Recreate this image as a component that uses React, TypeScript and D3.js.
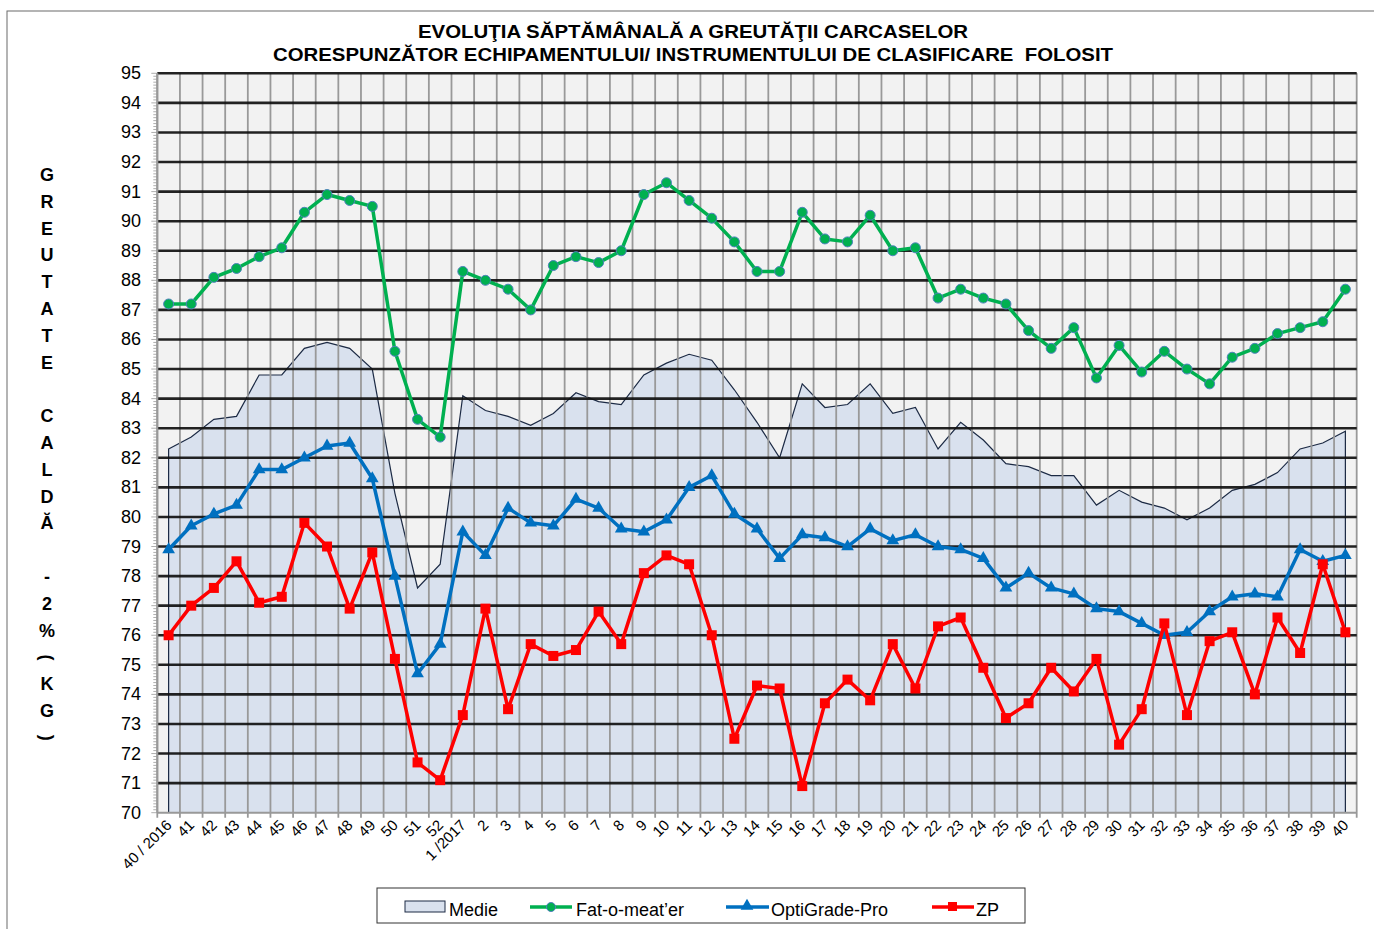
import * as d3 from 'd3';

const weeks = [
  '40 / 2016', '41', '42', '43', '44', '45', '46', '47', '48', '49', '50', '51', '52',
  '1 /2017', '2', '3', '4', '5', '6', '7', '8', '9', '10', '11', '12', '13', '14', '15',
  '16', '17', '18', '19', '20', '21', '22', '23', '24', '25', '26', '27', '28', '29', '30',
  '31', '32', '33', '34', '35', '36', '37', '38', '39', '40',
];

const medie = [
  82.3, 82.7, 83.3, 83.4, 84.8, 84.8, 85.7, 85.9, 85.7, 85.0, 80.8, 77.6, 78.4,
  84.1, 83.6, 83.4, 83.1, 83.5, 84.2, 83.9, 83.8, 84.8, 85.2, 85.5, 85.3, 84.3, 83.2, 82.0,
  84.5, 83.7, 83.8, 84.5, 83.5, 83.7, 82.3, 83.2, 82.6, 81.8, 81.7, 81.4, 81.4, 80.4, 80.9,
  80.5, 80.3, 79.9, 80.3, 80.9, 81.1, 81.5, 82.3, 82.5, 82.9,
];

const fatOMeater = [
  87.2, 87.2, 88.1, 88.4, 88.8, 89.1, 90.3, 90.9, 90.7, 90.5, 85.6, 83.3, 82.7,
  88.3, 88.0, 87.7, 87.0, 88.5, 88.8, 88.6, 89.0, 90.9, 91.3, 90.7, 90.1, 89.3, 88.3, 88.3,
  90.3, 89.4, 89.3, 90.2, 89.0, 89.1, 87.4, 87.7, 87.4, 87.2, 86.3, 85.7, 86.4, 84.7, 85.8,
  84.9, 85.6, 85.0, 84.5, 85.4, 85.7, 86.2, 86.4, 86.6, 87.7,
];

const optiGrade = [
  78.9, 79.7, 80.1, 80.4, 81.6, 81.6, 82.0, 82.4, 82.5, 81.3, 78.0, 74.7, 75.7,
  79.5, 78.7, 80.3, 79.8, 79.7, 80.6, 80.3, 79.6, 79.5, 79.9, 81.0, 81.4, 80.1, 79.6, 78.6,
  79.4, 79.3, 79.0, 79.6, 79.2, 79.4, 79.0, 78.9, 78.6, 77.6, 78.1, 77.6, 77.4, 76.9, 76.8,
  76.4, 76.0, 76.1, 76.8, 77.3, 77.4, 77.3, 78.9, 78.5, 78.7,
];

const zp = [
  76.0, 77.0, 77.6, 78.5, 77.1, 77.3, 79.8, 79.0, 76.9, 78.8, 75.2, 71.7, 71.1,
  73.3, 76.9, 73.5, 75.7, 75.3, 75.5, 76.8, 75.7, 78.1, 78.7, 78.4, 76.0, 72.5, 74.3, 74.2,
  70.9, 73.7, 74.5, 73.8, 75.7, 74.2, 76.3, 76.6, 74.9, 73.2, 73.7, 74.9, 74.1, 75.2, 72.3,
  73.5, 76.4, 73.3, 75.8, 76.1, 74.0, 76.6, 75.4, 78.4, 76.1,
];

const titleLines = [
  'EVOLUŢIA SĂPTĂMÂNALĂ A GREUTĂŢII CARCASELOR',
  'CORESPUNZĂTOR ECHIPAMENTULUI/ INSTRUMENTULUI DE CLASIFICARE  FOLOSIT',
];
const yLabelChars = ['G', 'R', 'E', 'U', 'T', 'A', 'T', 'E', '', 'C', 'A', 'L', 'D', 'Ă', '', '-', '2', '%', '(', 'K', 'G', ')'];
const yTicks = d3.range(70, 96);
const legendItems = ['Medie', 'Fat-o-meat’er', 'OptiGrade-Pro', 'ZP'];

const W = 1374;
const H = 929;
const left = 157.3;
const right = 1356.7;
const top = 73.3;
const bottom = 812.7;
const font = 'Liberation Sans, Arial, sans-serif';

export default function App() {
  const x = d3.scaleBand<string>().domain(weeks).range([left, right]);
  const y = d3.scaleLinear().domain([70, 95]).range([bottom, top]);
  const cx = (i: number) => (x(weeks[i]) ?? 0) + x.bandwidth() / 2;

  const line = d3
    .line<number>()
    .x((_, i) => cx(i))
    .y((d) => y(d));
  const area = d3
    .area<number>()
    .x((_, i) => cx(i))
    .y0(y(70))
    .y1((d) => y(d));

  const boundaries = weeks.map((w) => x(w) ?? 0).concat([right]);
  const minorTicks = d3.range(700, 951).map((v) => v / 10);

  const tri = d3.symbol(d3.symbolTriangle, 70)() ?? '';

  return (
    <svg width={W} height={H} style={{ position: 'absolute', left: 0, top: 0, background: '#fff' }} fontFamily={font}>
      <rect x={7} y={11} width={1400} height={960} fill="#fff" stroke="#6b6b6b" strokeWidth={1} />

      {titleLines.map((t, i) => (
        <text
          key={t}
          x={693}
          y={38 + i * 23}
          textAnchor="middle"
          fontWeight="bold"
          fontSize={19}
          textLength={i === 0 ? 550 : 840}
          lengthAdjust="spacingAndGlyphs"
          xmlSpace="preserve"
          style={{ whiteSpace: 'pre' }}
        >
          {t}
        </text>
      ))}

      {yLabelChars.map((c, i) => (
        <text
          key={i}
          x={47}
          y={175 + i * 26.8}
          textAnchor="middle"
          dominantBaseline="central"
          fontWeight="bold"
          fontSize={18}
          transform={c === '(' || c === ')' ? `rotate(90 47 ${175 + i * 26.8})` : undefined}
        >
          {c}
        </text>
      ))}

      <rect x={left} y={top} width={right - left} height={bottom - top} fill="#f2f2f2" />

      <path d={area(medie) ?? ''} fill="#d9e1ee" />
      <path
        d={`M${cx(0)},${y(70)}L${cx(0)},${y(medie[0])}` + (line(medie) ?? '').replace(/^M/, 'L') + `L${cx(medie.length - 1)},${y(70)}`}
        fill="none"
        stroke="#1c2a44"
        strokeWidth={1.2}
      />

      {boundaries.map((b, i) => (
        <line key={'v' + i} x1={b} x2={b} y1={top} y2={bottom + 5} stroke="#999" strokeWidth={1.8} />
      ))}
      {yTicks.map((t) => (
        <line key={'h' + t} x1={left} x2={right} y1={y(t)} y2={y(t)} stroke={t === 70 ? '#999' : '#111'} strokeWidth={t === 70 ? 2 : 2.6} opacity={t === 70 ? 1 : 0.92} />
      ))}

      <line x1={left} x2={left} y1={top} y2={bottom} stroke="#999" strokeWidth={2} />
      {minorTicks.map((t, i) => (
        <line key={'m' + i} x1={left - (Number.isInteger(t) ? 6 : 4)} x2={left} y1={y(t)} y2={y(t)} stroke="#999" strokeWidth={0.8} />
      ))}
      {yTicks.map((t) => (
        <text key={'yt' + t} x={141} y={y(t)} textAnchor="end" dominantBaseline="central" fontSize={18}>
          {t}
        </text>
      ))}

      {weeks.map((w, i) => (
        <text
          key={'xt' + i}
          x={cx(i) + 4}
          y={826}
          textAnchor="end"
          fontSize={15}
          transform={`rotate(-45 ${cx(i) + 4} ${826})`}
        >
          {w}
        </text>
      ))}

      <path d={line(fatOMeater) ?? ''} fill="none" stroke="#00b050" strokeWidth={3.5} strokeLinejoin="round" />
      {fatOMeater.map((v, i) => (
        <circle key={'f' + i} cx={cx(i)} cy={y(v)} r={5} fill="#00b050" stroke="#4f81bd" strokeWidth={1} />
      ))}

      <path d={line(optiGrade) ?? ''} fill="none" stroke="#0070c0" strokeWidth={3.5} strokeLinejoin="round" />
      {optiGrade.map((v, i) => (
        <path key={'o' + i} d={tri} transform={`translate(${cx(i)},${y(v)})`} fill="#0070c0" />
      ))}

      <path d={line(zp) ?? ''} fill="none" stroke="#ff0000" strokeWidth={3.5} strokeLinejoin="round" />
      {zp.map((v, i) => (
        <rect key={'z' + i} x={cx(i) - 5} y={y(v) - 5} width={10} height={10} fill="#ff0000" />
      ))}

      <rect x={377} y={888} width={648} height={35} fill="#fff" stroke="#333" strokeWidth={1} />
      <rect x={405} y={901} width={40} height={11} fill="#d9e1ee" stroke="#1c2a44" strokeWidth={1} />
      <text x={449} y={916} fontSize={18}>{legendItems[0]}</text>

      <line x1={530} x2={572} y1={907} y2={907} stroke="#00b050" strokeWidth={3.5} />
      <circle cx={551} cy={907} r={4.5} fill="#00b050" stroke="#4f81bd" strokeWidth={1} />
      <text x={576} y={916} fontSize={18}>{legendItems[1]}</text>

      <line x1={726} x2={769} y1={907} y2={907} stroke="#0070c0" strokeWidth={3.5} />
      <path d={tri} transform="translate(747,906)" fill="#0070c0" />
      <text x={771} y={916} fontSize={18}>{legendItems[2]}</text>

      <line x1={932} x2={974} y1={907} y2={907} stroke="#ff0000" strokeWidth={3.5} />
      <rect x={948} y={902} width={9} height={9} fill="#ff0000" />
      <text x={976} y={916} fontSize={18}>{legendItems[3]}</text>
    </svg>
  );
}
